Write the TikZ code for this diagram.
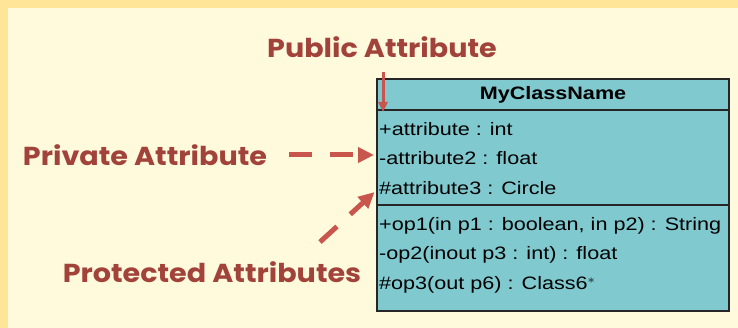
\documentclass[tikz,border=0pt]{standalone}
\usepackage{fontspec}
\setmainfont{Liberation Sans}
\newfontfamily\calloutfont{Poppins}
\usetikzlibrary{arrows.meta}

\definecolor{frameyellow}{HTML}{FFE598}
\definecolor{creambg}{HTML}{FFFADC}
\definecolor{boxteal}{HTML}{7FC9CF}
\definecolor{calloutred}{HTML}{A2433B}
\definecolor{arrowred}{HTML}{C8564D}

\newcommand\widen[2][1.2]{\scalebox{#1}[1]{#2}}

\tikzset{
  callout/.style={font=\calloutfont\bfseries\fontsize{26}{30}\selectfont, text=calloutred, inner sep=0pt},
  member/.style={anchor=west, inner sep=0pt, font=\fontsize{18}{21}\selectfont},
  compartment/.style={draw=black!85, line width=1.6pt, fill=boxteal, inner sep=0pt, outer sep=0pt,
    minimum width=352pt, anchor=north west},
  pointer/.style={draw=arrowred, line width=5pt, -{Triangle[length=16pt,width=15pt]}},
  dashpointer/.style={pointer, dash pattern=on 23pt off 18pt},
  thinpointer/.style={draw=arrowred, line width=3pt, -{Triangle[length=10pt,width=9pt]}}
}

\begin{document}
\begin{tikzpicture}[x=1pt,y=-1pt]
  \fill[frameyellow] (0,0) rectangle (738,328);
  \fill[creambg] (8,8) rectangle (738,328);
  \useasboundingbox (0,0) rectangle (738,328);

  % class box
  \node[compartment, minimum height=31pt, font=\bfseries\fontsize{18}{21}\selectfont] (head) at (377,79) {\widen{MyClassName}};
  \node[compartment, minimum height=95pt] (attrs) at (377,110) {};
  \node[compartment, minimum height=106pt] (ops) at (377,205) {};

  \node[member] (a1) at (379,129) {\widen{+attribute : int}};
  \node[member] (a2) at (379,158) {\widen{-attribute2 : float}};
  \node[member] (a3) at (379,188) {\widen{\#attribute3 : Circle}};
  \node[member] (o1) at (379,226) {\widen{+op1(in p1 : boolean, in p2) : String}};
  \node[member] (o2) at (379,255) {\widen{-op2(inout p3 : int) : float}};
  \node[member] (o3) at (379,285) {\widen{\#op3(out p6) : Class6$^{\ast}$}};

  % callouts
  \node[callout] (pub) at (382,47) {\widen[1.1]{Public Attribute}};
  \node[callout] (priv) at (145,155) {\widen[1.1]{Private Attribute}};
  \node[callout] (prot) at (212,272) {\widen[1.1]{Protected Attributes}};

  \coordinate (pubtail) at (383,72);
  \coordinate (pubtip) at (383,112);
  \coordinate (prottail) at (320,242);

  \draw[thinpointer] (pubtail) -- (pubtip);
  \draw[dashpointer, shorten <=22pt, shorten >=5pt] (priv.east) -- (priv.east -| a2.west);
  \draw[dashpointer, shorten >=6pt] (prottail) -- (a3.west);
\end{tikzpicture}
\end{document}
